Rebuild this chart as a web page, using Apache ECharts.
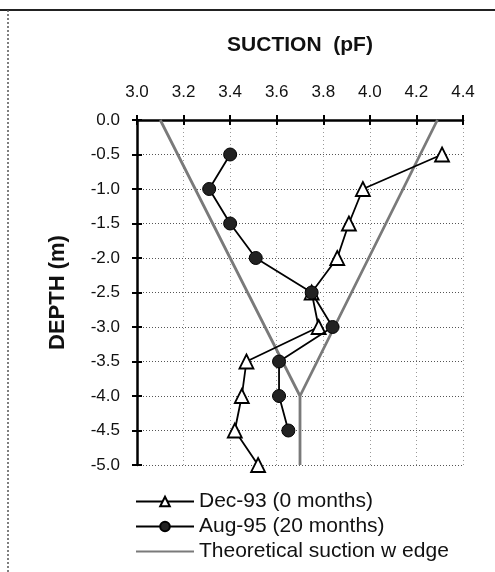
<!DOCTYPE html>
<html>
<head>
<meta charset="utf-8">
<script src="https://cdn.jsdelivr.net/npm/echarts@6/dist/echarts.min.js"></script>
<style>html,body{margin:0;padding:0;background:#fff}#c{width:495px;height:572px}</style>
</head>
<body>
<div id="c"></div>
<script>
const xTicks = [3.0, 3.2, 3.4, 3.6, 3.8, 4.0, 4.2, 4.4];
const decDepth = [-0.5, -1.0, -1.5, -2.0, -2.5, -3.0, -3.5, -4.0, -4.5, -5.0];
const decSuction = [4.31, 3.97, 3.91, 3.86, 3.75, 3.78, 3.47, 3.45, 3.42, 3.52];
const augDepth = [-0.5, -1.0, -1.5, -2.0, -2.5, -3.0, -3.5, -4.0, -4.5];
const augSuction = [3.40, 3.31, 3.40, 3.51, 3.75, 3.84, 3.61, 3.61, 3.65];
const wedgeSuction = [3.1, 3.7, 3.7, 3.7, 4.29];
const wedgeDepth = [0.0, -4.0, -5.0, -4.0, 0.0];

const pairs = (xs, ys) => xs.map((x, i) => [x, ys[i]]);
const FONT = 'Liberation Sans, Arial, sans-serif';
const chart = echarts.init(document.getElementById('c'), null, {renderer: 'canvas'});

const xBase = {
  type: 'value', min: 3.0, max: 4.4, interval: 0.2, position: 'top', gridIndex: 0
};
const yBase = {
  type: 'value', min: -5, max: 0, interval: 0.5, position: 'left', gridIndex: 0
};

chart.setOption({
  animation: false,
  backgroundColor: '#fff',
  grid: {left: 137, top: 120, right: 32, bottom: 107, containLabel: false},
  graphic: [
    {type: 'line', shape: {x1: 0, y1: 10, x2: 495, y2: 10}, style: {stroke: '#222', lineWidth: 2}},
    {type: 'line', shape: {x1: 8, y1: 10, x2: 8, y2: 572}, style: {stroke: '#555', lineWidth: 1.5, lineDash: [2, 2]}}
  ],
  xAxis: [
    Object.assign({}, xBase, {
      name: 'SUCTION  (pF)', nameLocation: 'middle', nameGap: 64,
      nameTextStyle: {fontFamily: FONT, fontSize: 21, fontWeight: 'bold', color: '#111'},
      axisLine: {show: true, lineStyle: {color: '#000', width: 2.5}},
      axisTick: {show: true, length: 5, lineStyle: {color: '#000', width: 2}},
      axisLabel: {fontFamily: FONT, fontSize: 17, color: '#111', margin: 19,
        formatter: v => xTicks.some(t => Math.abs(t - v) < 1e-6) ? v.toFixed(1) : ''},
      splitLine: {show: true, lineStyle: {color: '#999', width: 1, type: [1, 3]}}
    }),
    Object.assign({}, xBase, {
      axisLine: {show: false},
      axisTick: {show: true, inside: true, length: 5, lineStyle: {color: '#000', width: 2}},
      axisLabel: {show: false}, splitLine: {show: false}
    })
  ],
  yAxis: [
    Object.assign({}, yBase, {
      name: 'DEPTH (m)', nameLocation: 'middle', nameGap: 68, nameRotate: 90,
      nameTextStyle: {fontFamily: FONT, fontSize: 22, fontWeight: 'bold', color: '#111'},
      axisLine: {show: true, onZero: false, lineStyle: {color: '#000', width: 2.5}},
      axisTick: {show: true, length: 5, lineStyle: {color: '#000', width: 2}},
      axisLabel: {fontFamily: FONT, fontSize: 17, color: '#111', margin: 17,
        formatter: v => (Math.abs(v) < 1e-9 ? 0 : v).toFixed(1)},
      splitLine: {show: true, lineStyle: {color: '#555', width: 1, type: [1, 2]}}
    }),
    Object.assign({}, yBase, {
      axisLine: {show: false},
      axisTick: {show: true, inside: true, length: 5, lineStyle: {color: '#000', width: 2}},
      axisLabel: {show: false}, splitLine: {show: false}
    })
  ],
  legend: {
    orient: 'vertical', left: 130, top: 486, itemWidth: 58, itemHeight: 12, itemGap: 4,
    textStyle: {fontFamily: FONT, fontSize: 21, color: '#111'},
    data: [
      {name: 'Dec-93 (0 months)'},
      {name: 'Aug-95 (20 months)'},
      {name: 'Theoretical suction w edge', itemStyle: {opacity: 0}}
    ]
  },
  series: [
    {
      name: 'Theoretical suction w edge', type: 'line', xAxisIndex: 0, yAxisIndex: 0,
      data: pairs(wedgeSuction, wedgeDepth), showSymbol: false, symbol: 'none',
      lineStyle: {color: '#7a7a7a', width: 2.8}, itemStyle: {color: '#7a7a7a'}, z: 2
    },
    {
      name: 'Dec-93 (0 months)', type: 'line', xAxisIndex: 0, yAxisIndex: 0,
      data: pairs(decSuction, decDepth), symbol: 'triangle', symbolSize: 14,
      lineStyle: {color: '#000', width: 1.8},
      itemStyle: {color: '#fff', borderColor: '#000', borderWidth: 1.8}, z: 3
    },
    {
      name: 'Aug-95 (20 months)', type: 'line', xAxisIndex: 0, yAxisIndex: 0,
      data: pairs(augSuction, augDepth), symbol: 'circle', symbolSize: 13,
      lineStyle: {color: '#000', width: 1.8},
      itemStyle: {color: '#222', borderColor: '#000', borderWidth: 1}, z: 4
    }
  ]
});
</script>
</body>
</html>
